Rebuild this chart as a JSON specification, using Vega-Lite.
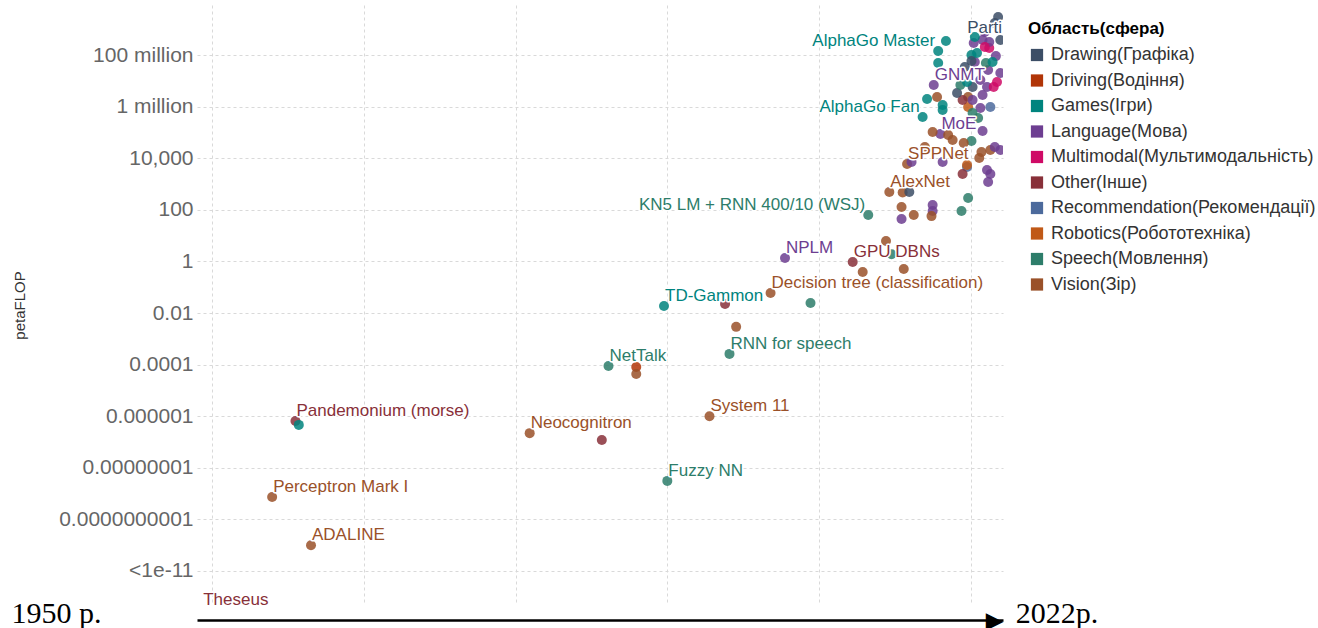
{
  "$schema": "https://vega.github.io/schema/vega-lite/v6.json",
  "width": 806,
  "height": 600,
  "autosize": {"type": "none"},
  "padding": {"left": 197, "top": 5, "right": 315, "bottom": 23},
  "background": "white",
  "config": {"view": {"stroke": null}, "font": "Liberation Sans"},
  "data": {
    "values": [
      {"label": "Theseus", "year": 1950.2, "pf": 3e-14, "domain": "Other(Інше)"},
      {"label": "Perceptron Mark I", "year": 1956.5, "pf": 7.4e-10, "domain": "Vision(Зір)"},
      {"label": "ADALINE", "year": 1960.0, "pf": 1.0e-11, "domain": "Vision(Зір)"},
      {"label": "Pandemonium (morse)", "year": 1958.6, "pf": 6.5e-7, "domain": "Other(Інше)"},
      {"year": 1958.9, "pf": 4.6e-7, "domain": "Games(Ігри)"},
      {"label": "Neocognitron", "year": 1979.7, "pf": 2.2e-7, "domain": "Vision(Зір)"},
      {"year": 1986.2, "pf": 1.2e-7, "domain": "Other(Інше)"},
      {"label": "Fuzzy NN", "year": 1992.1, "pf": 3.1e-9, "domain": "Speech(Мовлення)"},
      {"label": "System 11", "year": 1995.9, "pf": 1.0e-6, "domain": "Vision(Зір)"},
      {"label": "NetTalk", "year": 1986.8, "pf": 8.8e-5, "domain": "Speech(Мовлення)"},
      {"year": 1989.3, "pf": 8.1e-5, "domain": "Driving(Водіння)"},
      {"year": 1989.3, "pf": 4.3e-5, "domain": "Vision(Зір)"},
      {"label": "RNN for speech", "year": 1997.7, "pf": 2.6e-4, "domain": "Speech(Мовлення)"},
      {"year": 1998.3, "pf": 2.9e-3, "domain": "Vision(Зір)"},
      {"label": "TD-Gammon", "year": 1991.8, "pf": 0.0187, "domain": "Games(Ігри)"},
      {"year": 1997.3, "pf": 0.0223, "domain": "Other(Інше)"},
      {"label": "Decision tree (classification)", "year": 2001.4, "pf": 0.06, "domain": "Vision(Зір)"},
      {"year": 2005.0, "pf": 0.0244, "domain": "Speech(Мовлення)"},
      {"label": "NPLM", "year": 2002.7, "pf": 1.36, "domain": "Language(Мова)"},
      {"label": "GPU DBNs", "year": 2008.8, "pf": 0.95, "domain": "Other(Інше)"},
      {"year": 2009.7, "pf": 0.39, "domain": "Vision(Зір)"},
      {"year": 2011.8, "pf": 6.2, "domain": "Vision(Зір)"},
      {"year": 2012.3, "pf": 1.9, "domain": "Speech(Мовлення)"},
      {"year": 2013.4, "pf": 0.51, "domain": "Vision(Зір)"},
      {"label": "KN5 LM + RNN 400/10 (WSJ)", "year": 2010.2, "pf": 63, "domain": "Speech(Мовлення)"},
      {"label": "AlexNet", "year": 2012.1, "pf": 490, "domain": "Vision(Зір)"},
      {"year": 2013.3, "pf": 470, "domain": "Vision(Зір)"},
      {"year": 2013.9, "pf": 490, "domain": "Drawing(Графіка)"},
      {"year": 2013.2, "pf": 129, "domain": "Vision(Зір)"},
      {"year": 2013.2, "pf": 44, "domain": "Language(Мова)"},
      {"year": 2014.3, "pf": 63, "domain": "Vision(Зір)"},
      {"year": 2016.0, "pf": 154, "domain": "Language(Мова)"},
      {"year": 2016.0, "pf": 90, "domain": "Language(Мова)"},
      {"year": 2015.9, "pf": 57, "domain": "Vision(Зір)"},
      {"year": 2018.6, "pf": 90, "domain": "Speech(Мовлення)"},
      {"year": 2019.2, "pf": 287, "domain": "Speech(Мовлення)"},
      {"label": "SPPNet", "year": 2013.7, "pf": 5960, "domain": "Vision(Зір)"},
      {"year": 2014.1, "pf": 7130, "domain": "Language(Мова)"},
      {"year": 2016.9, "pf": 7130, "domain": "Language(Мова)"},
      {"year": 2019.1, "pf": 4560, "domain": "Recommendation(Рекомендації)"},
      {"year": 2018.7, "pf": 2440, "domain": "Other(Інше)"},
      {"year": 2019.1, "pf": 5450, "domain": "Robotics(Робототехніка)"},
      {"year": 2021.2, "pf": 2440, "domain": "Language(Мова)"},
      {"year": 2021.0, "pf": 1200, "domain": "Language(Мова)"},
      {"year": 2020.9, "pf": 3490, "domain": "Language(Мова)"},
      {"year": 2021.2, "pf": 20800, "domain": "Vision(Зір)"},
      {"year": 2022.1, "pf": 20800, "domain": "Language(Мова)"},
      {"year": 2020.2, "pf": 10200, "domain": "Vision(Зір)"},
      {"year": 2020.4, "pf": 17400, "domain": "Vision(Зір)"},
      {"year": 2019.5, "pf": 46400, "domain": "Speech(Мовлення)"},
      {"year": 2018.8, "pf": 38800, "domain": "Vision(Зір)"},
      {"year": 2017.8, "pf": 50700, "domain": "Vision(Зір)"},
      {"label": "MoE", "year": 2016.7, "pf": 86700, "domain": "Language(Мова)"},
      {"year": 2020.5, "pf": 113000, "domain": "Language(Мова)"},
      {"year": 2015.3, "pf": 27200, "domain": "Vision(Зір)"},
      {"year": 2016.0, "pf": 104000, "domain": "Vision(Зір)"},
      {"year": 2017.4, "pf": 79300, "domain": "Vision(Зір)"},
      {"year": 2021.6, "pf": 27200, "domain": "Language(Мова)"},
      {"label": "AlphaGo Fan", "year": 2015.1, "pf": 395000, "domain": "Games(Ігри)"},
      {"year": 2015.5, "pf": 1970000, "domain": "Games(Ігри)"},
      {"year": 2016.9, "pf": 1150000, "domain": "Games(Ігри)"},
      {"year": 2016.4, "pf": 2360000, "domain": "Vision(Зір)"},
      {"year": 2016.9, "pf": 738000, "domain": "Games(Ігри)"},
      {"year": 2019.2, "pf": 964000, "domain": "Robotics(Робототехніка)"},
      {"year": 2021.2, "pf": 964000, "domain": "Recommendation(Рекомендації)"},
      {"year": 2020.3, "pf": 883000, "domain": "Language(Мова)"},
      {"year": 2019.6, "pf": 565000, "domain": "Speech(Мовлення)"},
      {"year": 2020.1, "pf": 362000, "domain": "Speech(Мовлення)"},
      {"year": 2019.2, "pf": 2360000, "domain": "Vision(Зір)"},
      {"year": 2018.7, "pf": 1800000, "domain": "Other(Інше)"},
      {"year": 2019.6, "pf": 1800000, "domain": "Language(Мова)"},
      {"year": 2018.2, "pf": 3370000, "domain": "Drawing(Графіка)"},
      {"year": 2020.5, "pf": 2820000, "domain": "Language(Мова)"},
      {"label": "GNMT", "year": 2016.1, "pf": 6880000, "domain": "Language(Мова)"},
      {"year": 2018.5, "pf": 6880000, "domain": "Speech(Мовлення)"},
      {"year": 2019.6, "pf": 5750000, "domain": "Drawing(Графіка)"},
      {"year": 2020.9, "pf": 5750000, "domain": "Language(Мова)"},
      {"year": 2021.5, "pf": 5750000, "domain": "Multimodal(Мультимодальність)"},
      {"year": 2021.8, "pf": 8980000, "domain": "Multimodal(Мультимодальність)"},
      {"year": 2020.3, "pf": 10700000, "domain": "Language(Мова)"},
      {"year": 2019.1, "pf": 8980000, "domain": "Games(Ігри)"},
      {"year": 2016.5, "pf": 49000000, "domain": "Games(Ігри)"},
      {"year": 2018.9, "pf": 34300000, "domain": "Drawing(Графіка)"},
      {"year": 2021.0, "pf": 26200000, "domain": "Language(Мова)"},
      {"year": 2022.1, "pf": 20000000, "domain": "Language(Мова)"},
      {"year": 2019.8, "pf": 53500000, "domain": "Language(Мова)"},
      {"year": 2020.8, "pf": 49000000, "domain": "Speech(Мовлення)"},
      {"year": 2021.7, "pf": 91000000, "domain": "Language(Мова)"},
      {"year": 2020.0, "pf": 120000000, "domain": "Games(Ігри)"},
      {"year": 2021.1, "pf": 187000000, "domain": "Multimodal(Мультимодальність)"},
      {"year": 2019.5, "pf": 100000000, "domain": "Games(Ігри)"},
      {"label": "AlphaGo Master", "year": 2016.5, "pf": 143000000, "domain": "Games(Ігри)"},
      {"year": 2017.2, "pf": 349000000, "domain": "Games(Ігри)"},
      {"year": 2019.7, "pf": 292000000, "domain": "Language(Мова)"},
      {"year": 2020.5, "pf": 381000000, "domain": "Language(Мова)"},
      {"year": 2021.1, "pf": 319000000, "domain": "Language(Мова)"},
      {"year": 2022.1, "pf": 381000000, "domain": "Drawing(Графіка)"},
      {"year": 2019.8, "pf": 499000000, "domain": "Games(Ігри)"},
      {"year": 2020.7, "pf": 780000000, "domain": "Language(Мова)"},
      {"year": 2021.6, "pf": 1740000000, "domain": "Drawing(Графіка)"},
      {"label": "Parti", "year": 2021.9, "pf": 2970000000, "domain": "Drawing(Графіка)"},
      {"year": 2020.7, "pf": 204000000, "domain": "Multimodal(Мультимодальність)"},
      {"year": 2021.4, "pf": 53500000, "domain": "Games(Ігри)"},
      {"year": 2019.5, "pf": 58500000, "domain": "Drawing(Графіка)"}
    ]
  },
  "layer": [
    {
      "mark": {"type": "circle", "size": 100, "opacity": 0.85, "clip": true},
      "encoding": {
        "x": {
          "field": "year",
          "type": "quantitative",
          "scale": {"domain": [1949.73, 2022.34], "nice": false, "zero": false},
          "axis": {
            "values": [1950, 1951.08, 1964.77, 1978.47, 1992.07, 2005.77, 2019.46, 2021.53, 2022],
            "title": null,
            "orient": "bottom",
            "offset": 15,
            "domainColor": "black",
            "domainWidth": 2.5,
            "ticks": false,
            "tickSize": 0,
            "grid": true,
            "gridColor": "#d9d9d9",
            "gridDash": [3, 3],
            "gridWidth": 1,
            "gridOpacity": {"condition": {"test": "datum.value < 1951 || datum.value > 2020", "value": 0}, "value": 1},
            "labelExpr": "datum.value < 1951 ? '1950 р.' : datum.value > 2021.9 ? '2022р.' : datum.value > 2020 ? '▶' : ''",
            "labelFont": {"condition": {"test": "datum.value > 2020 && datum.value < 2021.9", "value": "DejaVu Sans"}, "value": "Liberation Serif"},
            "labelFontSize": {"condition": {"test": "datum.value > 2020 && datum.value < 2021.9", "value": 23}, "value": 30},
            "labelColor": "black",
            "labelAlign": {"condition": [{"test": "datum.value < 1951", "value": "right"}, {"test": "datum.value > 2021.9", "value": "left"}], "value": "center"},
            "labelBaseline": "alphabetic",
            "labelOffset": {"condition": [{"test": "datum.value < 1951", "value": -99}, {"test": "datum.value > 2021.9", "value": 16}], "value": 0},
            "labelPadding": {"condition": {"test": "datum.value > 2020 && datum.value < 2021.9", "value": 7}, "value": 2},
            "labelOverlap": false,
            "labelFlush": false,
            "labelBound": false
          }
        },
        "y": {
          "field": "pf",
          "type": "quantitative",
          "scale": {"type": "log", "domain": [4.79e-14, 8.71e9], "nice": false},
          "axis": {
            "values": [1e8, 1e6, 1e4, 100, 1, 0.01, 1e-4, 1e-6, 1e-8, 1e-10, 1e-12],
            "title": "petaFLOP",
            "titleFont": "Liberation Sans",
            "titleFontSize": 15,
            "titleFontWeight": "normal",
            "titleColor": "#333333",
            "titleX": -170,
            "titleY": 300,
            "domain": false,
            "ticks": false,
            "tickSize": 0,
            "labelFont": "Liberation Sans",
            "labelFontSize": 21,
            "labelColor": "#666666",
            "labelPadding": 4,
            "labelOverlap": false,
            "labelFlush": false,
            "labelExpr": "datum.value >= 1e7 ? '100 million' : datum.value >= 1e5 ? '1 million' : datum.value >= 1e3 ? '10,000' : datum.value >= 10 ? '100' : datum.value >= 0.1 ? '1' : datum.value >= 1e-3 ? '0.01' : datum.value >= 1e-5 ? '0.0001' : datum.value >= 1e-7 ? '0.000001' : datum.value >= 1e-9 ? '0.00000001' : datum.value >= 1e-11 ? '0.0000000001' : '<1e-11'",
            "grid": true,
            "gridColor": "#d9d9d9",
            "gridDash": [3, 3],
            "gridWidth": 1
          }
        },
        "color": {
          "field": "domain",
          "type": "nominal",
          "scale": {
            "domain": ["Drawing(Графіка)", "Driving(Водіння)", "Games(Ігри)", "Language(Мова)", "Multimodal(Мультимодальність)", "Other(Інше)", "Recommendation(Рекомендації)", "Robotics(Робототехніка)", "Speech(Мовлення)", "Vision(Зір)"],
            "range": ["#3c4e66", "#b13507", "#00847e", "#6d3e91", "#cf0a66", "#883039", "#4c6a9c", "#c05917", "#2d7d6a", "#9a5129"]
          },
          "legend": {
            "title": "Область(сфера)",
            "orient": "none",
            "legendX": 831,
            "legendY": 16,
            "padding": 0,
            "titleFont": "Liberation Sans",
            "titleFontSize": 17,
            "titleFontWeight": "bold",
            "titleColor": "black",
            "titlePadding": 8,
            "labelFont": "Liberation Sans",
            "labelFontSize": 18,
            "labelColor": "#333333",
            "labelOffset": 5,
            "labelLimit": 400,
            "symbolType": "square",
            "symbolSize": 150,
            "symbolOpacity": 1,
            "symbolStrokeWidth": 0,
            "rowPadding": 7.5
          }
        }
      }
    },
    {
      "transform": [{"filter": "datum.label && indexof(['KN5 LM + RNN 400/10 (WSJ)', 'AlphaGo Master', 'AlphaGo Fan', 'Parti'], datum.label) < 0"}],
      "mark": {"type": "text", "align": "left", "baseline": "alphabetic", "dx": 1, "dy": -5, "font": "Liberation Sans", "fontSize": 17, "fill": "white", "stroke": "white", "strokeWidth": 3, "strokeJoin": "round"},
      "encoding": {
        "x": {"field": "year", "type": "quantitative"},
        "y": {"field": "pf", "type": "quantitative"},
        "text": {"field": "label"}
      }
    },
    {
      "transform": [{"filter": "datum.label && indexof(['KN5 LM + RNN 400/10 (WSJ)', 'AlphaGo Master', 'AlphaGo Fan', 'Parti'], datum.label) < 0"}],
      "mark": {"type": "text", "align": "left", "baseline": "alphabetic", "dx": 1, "dy": -5, "font": "Liberation Sans", "fontSize": 17},
      "encoding": {
        "x": {"field": "year", "type": "quantitative"},
        "y": {"field": "pf", "type": "quantitative"},
        "text": {"field": "label"},
        "color": {"field": "domain", "type": "nominal", "legend": null}
      }
    },
    {
      "transform": [{"filter": "indexof(['KN5 LM + RNN 400/10 (WSJ)', 'AlphaGo Master', 'AlphaGo Fan'], datum.label) >= 0"}],
      "mark": {"type": "text", "align": "right", "baseline": "alphabetic", "dx": -3, "dy": -5, "font": "Liberation Sans", "fontSize": 17, "fill": "white", "stroke": "white", "strokeWidth": 3, "strokeJoin": "round"},
      "encoding": {
        "x": {"field": "year", "type": "quantitative"},
        "y": {"field": "pf", "type": "quantitative"},
        "text": {"field": "label"}
      }
    },
    {
      "transform": [{"filter": "indexof(['KN5 LM + RNN 400/10 (WSJ)', 'AlphaGo Master', 'AlphaGo Fan'], datum.label) >= 0"}],
      "mark": {"type": "text", "align": "right", "baseline": "alphabetic", "dx": -3, "dy": -5, "font": "Liberation Sans", "fontSize": 17},
      "encoding": {
        "x": {"field": "year", "type": "quantitative"},
        "y": {"field": "pf", "type": "quantitative"},
        "text": {"field": "label"},
        "color": {"field": "domain", "type": "nominal", "legend": null}
      }
    },
    {
      "transform": [{"filter": "datum.label === 'Parti'"}],
      "mark": {"type": "text", "align": "right", "baseline": "top", "dx": 4, "dy": 3, "font": "Liberation Sans", "fontSize": 17, "fill": "white", "stroke": "white", "strokeWidth": 3, "strokeJoin": "round"},
      "encoding": {
        "x": {"field": "year", "type": "quantitative"},
        "y": {"field": "pf", "type": "quantitative"},
        "text": {"field": "label"}
      }
    },
    {
      "transform": [{"filter": "datum.label === 'Parti'"}],
      "mark": {"type": "text", "align": "right", "baseline": "top", "dx": 4, "dy": 3, "font": "Liberation Sans", "fontSize": 17},
      "encoding": {
        "x": {"field": "year", "type": "quantitative"},
        "y": {"field": "pf", "type": "quantitative"},
        "text": {"field": "label"},
        "color": {"field": "domain", "type": "nominal", "legend": null}
      }
    }
  ]
}
